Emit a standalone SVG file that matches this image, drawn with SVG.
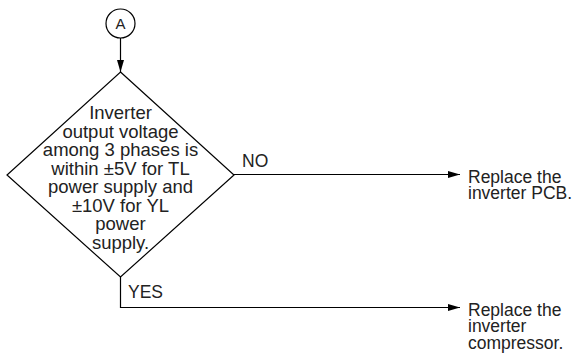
<svg xmlns="http://www.w3.org/2000/svg" width="577" height="355" viewBox="0 0 577 355">
<style>
.ln{fill:none;stroke:#000;stroke-width:1.2}
.sh{fill:#fff;stroke:#000;stroke-width:1.2}
text{font-family:"Liberation Sans",Arial,sans-serif;fill:#222}
.d{font-size:18.5px;text-anchor:middle}
.l{font-size:17.5px}
</style>
<defs>
<marker id="ah" markerWidth="12" markerHeight="7" refX="12" refY="3.5" orient="auto" markerUnits="userSpaceOnUse">
<path d="M0,0 L12,3.5 L0,7 Z" fill="#000"/>
</marker>
</defs>
<g id="connectors">
<line class="ln" x1="120.5" y1="38" x2="120.5" y2="72" marker-end="url(#ah)"/>
<line class="ln" x1="234" y1="174.5" x2="460" y2="174.5" marker-end="url(#ah)"/>
<polyline class="ln" points="120.5,277 120.5,307.5 460,307.5" marker-end="url(#ah)"/>
<text class="l" x="242" y="167">NO</text>
<text class="l" x="128" y="297.5">YES</text>
</g>
<g id="start">
<circle class="sh" cx="120.5" cy="23.5" r="14.5"/>
<text x="120.5" y="28.5" font-size="15" text-anchor="middle">A</text>
</g>
<g id="decision">
<polygon class="sh" points="120.5,72 234,175 120.5,277 7,175"/>
<text class="d" x="120.5" y="119">Inverter</text>
<text class="d" x="120.5" y="137.5">output voltage</text>
<text class="d" x="120.5" y="156">among 3 phases is</text>
<text class="d" x="120.5" y="174.5">within ±5V for TL</text>
<text class="d" x="120.5" y="193">power supply and</text>
<text class="d" x="120.5" y="211.5">±10V for YL</text>
<text class="d" x="120.5" y="230">power</text>
<text class="d" x="120.5" y="248.5">supply.</text>
</g>
<g id="replace-pcb">
<text class="l" x="468" y="182.5">Replace the</text>
<text class="l" x="468" y="199">inverter PCB.</text>
</g>
<g id="replace-compressor">
<text class="l" x="468" y="315.5">Replace the</text>
<text class="l" x="468" y="332">inverter</text>
<text class="l" x="468" y="348.5">compressor.</text>
</g>
</svg>
